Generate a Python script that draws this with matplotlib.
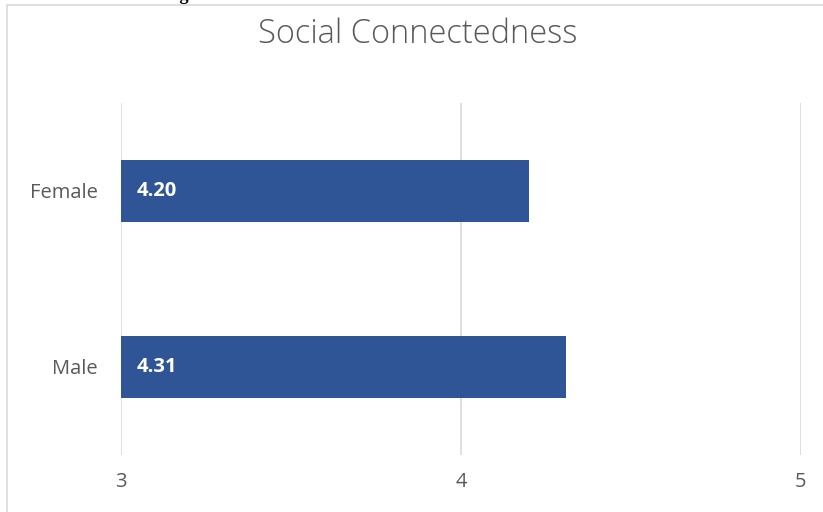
import matplotlib.pyplot as plt
from matplotlib.patches import Rectangle

categories = ["Male", "Female"]
values = [4.31, 4.20]
x_ticks = [3, 4, 5]

plt.rcParams['font.family'] = ['Open Sans', 'DejaVu Sans']

W, H = 823, 512
fig = plt.figure(figsize=(W / 100, H / 100), dpi=100)
fig.patch.set_facecolor("white")

# clipped caption above the chart frame
fig.text(163 / W, 1 - 0.5 / H, "Figure 36: Male vs. Female Social Connectedness",
         fontsize=13.2, fontweight="bold", family=["Liberation Serif"],
         ha="left", va="baseline", color="black")

# chart frame (cut off at right and bottom)
fig.patches.append(Rectangle((7 / W, -0.05), 1.0, 1 - 5 / H + 0.05,
                             transform=fig.transFigure, fill=False,
                             edgecolor="#D9D9D9", linewidth=1.2))

ax = fig.add_axes([121 / W, 1 - 455 / H, 680 / W, 352 / H])
ax.set_xlim(x_ticks[0], x_ticks[-1])
ax.set_ylim(-0.5, 1.5)
ax.barh(range(len(categories)), [v - x_ticks[0] for v in values],
        left=x_ticks[0], height=0.352, color="#2F5597", zorder=3)

for i, v in enumerate(values):
    ax.text(x_ticks[0] + 0.045, i, f"{v:.2f}", color="white", fontweight="bold",
            fontsize=14.5, va="center", ha="left", zorder=4)

ax.set_xticks(x_ticks)
ax.set_yticks(range(len(categories)))
ax.set_yticklabels(categories)
ax.tick_params(axis="both", length=0, labelcolor="#595959", labelsize=14.5)
ax.tick_params(axis="x", pad=12)
ax.tick_params(axis="y", pad=17)
ax.grid(axis="x", color="#D9D9D9", linewidth=1.2, zorder=0)
for s in ax.spines.values():
    s.set_visible(False)

fig.text(418 / W, 1 - 34 / H, "Social Connectedness", fontsize=23.5,
         color="#595959", ha="center", va="center", fontweight="light")

fig.savefig("out.png", dpi=100)
